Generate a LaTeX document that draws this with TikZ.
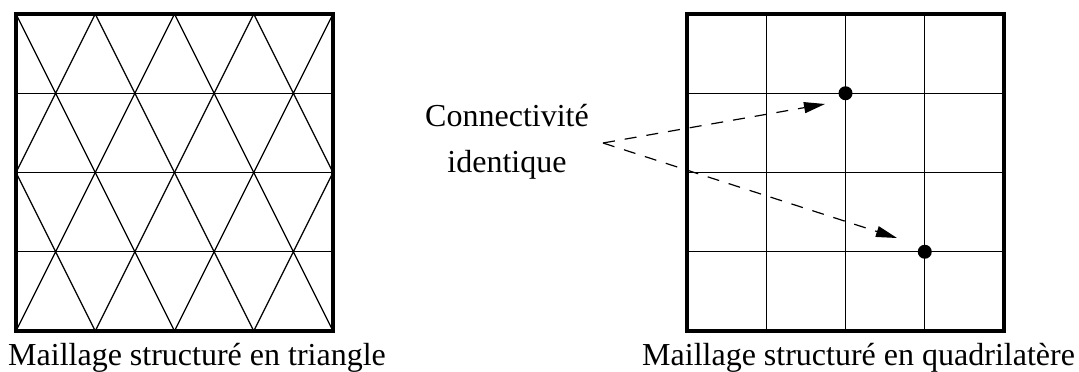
\documentclass[tikz,border=0pt]{standalone}
\usepackage{fontspec}
\setmainfont{Liberation Serif}
\usetikzlibrary{arrows.meta}
\begin{document}
\begin{tikzpicture}[x=1pt,y=-1pt,
  frame/.style={line width=4.5pt, line join=miter},
  mesh/.style={line width=1.3pt},
  conn/.style={line width=1.2pt, dash pattern=on 12pt off 10pt, -{Triangle[length=21pt,width=11pt]}},
  lbl/.style={font=\fontsize{32}{38}\selectfont, inner sep=0pt},
  dot/.style={circle, fill, inner sep=0pt, minimum size=14pt}]
\useasboundingbox (0,0) rectangle (1079,372);
\def\s{79.25}
% left triangular mesh
\foreach \j in {1,2,3} \draw[mesh] (16,14+\j*\s) -- (333,14+\j*\s);
\foreach \j in {0,2} \foreach \k in {0,...,3} {
  \draw[mesh] (16+\k*\s,14+\j*\s) -- (16+\k*\s+\s/2,14+\j*\s+\s) -- (16+\k*\s+\s,14+\j*\s);
  \draw[mesh] (16+\k*\s,14+\j*\s+2*\s) -- (16+\k*\s+\s/2,14+\j*\s+\s) -- (16+\k*\s+\s,14+\j*\s+2*\s);
}
\draw[frame] (16,14) rectangle (333,331);
% right quadrilateral mesh
\foreach \j in {1,2,3} {
  \draw[mesh] (687,14+\j*\s) -- (1004,14+\j*\s);
  \draw[mesh] (687+\j*\s,14) -- (687+\j*\s,331);
}
\draw[frame] (687,14) rectangle (1004,331);
\node[dot] (p1) at (687+2*\s,14+\s) {};
\node[dot] (p2) at (687+3*\s,14+3*\s) {};
% labels
\node[lbl, anchor=base] (c1) at (507,126.7) {Connectivité};
\node[lbl, anchor=base] (c2) at (507,172) {identique};
\node[lbl, anchor=base west] (l1) at (8,365) {Maillage structuré en triangle};
\node[lbl, anchor=base west] (l2) at (642,365) {Maillage structuré en quadrilatère};
% connectors
\coordinate (src) at (603,143);
\coordinate (t1) at (825,104);
\coordinate (t2) at (897,238);
\draw[conn] (src) -- (t1);
\draw[conn] (src) -- (t2);
\end{tikzpicture}
\end{document}
